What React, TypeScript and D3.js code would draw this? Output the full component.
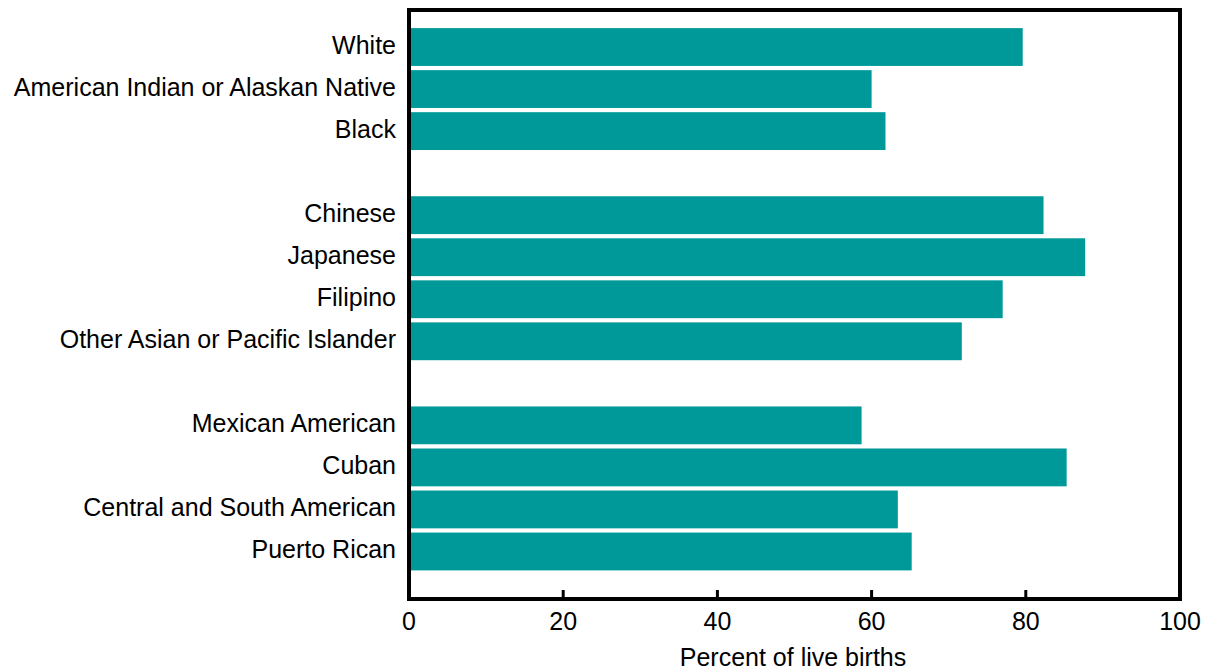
import React from "react";
import * as d3 from "d3";

const categories = [
  "White",
  "American Indian or Alaskan Native",
  "Black",
  "",
  "Chinese",
  "Japanese",
  "Filipino",
  "Other Asian or Pacific Islander",
  "",
  "Mexican American",
  "Cuban",
  "Central and South American",
  "Puerto Rican",
];
const values: (number | null)[] = [79.6, 60.0, 61.8, null, 82.3, 87.7, 77.0, 71.7, null, 58.7, 85.3, 63.4, 65.2];
const xTicks = [0, 20, 40, 60, 80, 100];
const xTitle = "Percent of live births";

const W = 1209;
const H = 671;
const left = 409;
const right = 1180;
const top = 10;
const bottom = 599;
const FONT = "'Liberation Sans', Arial, sans-serif";
const TEAL = "#009999";
const FS = 25;

export default function App() {
  const x = d3.scaleLinear().domain([0, 100]).range([left, right]);
  const rows = categories.map((_, i) => String(i));
  const y = d3.scaleBand<string>().domain(rows).range([26, 572.5]).paddingInner(0.1).paddingOuter(0.05);
  const bw = y.bandwidth();
  return (
    <svg width={W} height={H} style={{ position: "absolute", left: 0, top: 0, background: "#fff" }}>
      {values.map((v, i) =>
        v == null ? null : (
          <rect key={i} x={x(0)} y={y(String(i))} width={x(v) - x(0)} height={bw} fill={TEAL} />
        )
      )}
      {categories.map((c, i) =>
        c ? (
          <text
            key={i}
            x={396}
            y={(y(String(i)) as number) + bw / 2 + 6.5}
            textAnchor="end"
            fontFamily={FONT}
            fontSize={FS}
            fill="#000"
          >
            {c}
          </text>
        ) : null
      )}
      {xTicks.map((t) => (
        <g key={t}>
          {t > 0 && t < 100 ? (
            <line x1={x(t)} x2={x(t)} y1={bottom} y2={bottom - 9} stroke="#000" strokeWidth={3} />
          ) : null}
          <text x={x(t)} y={629.5} textAnchor="middle" fontFamily={FONT} fontSize={FS} fill="#000">
            {t}
          </text>
        </g>
      ))}
      <rect x={left} y={top} width={right - left} height={bottom - top} fill="none" stroke="#000" strokeWidth={4} />
      <text x={793} y={666} textAnchor="middle" fontFamily={FONT} fontSize={FS} fill="#000">
        {xTitle}
      </text>
    </svg>
  );
}
